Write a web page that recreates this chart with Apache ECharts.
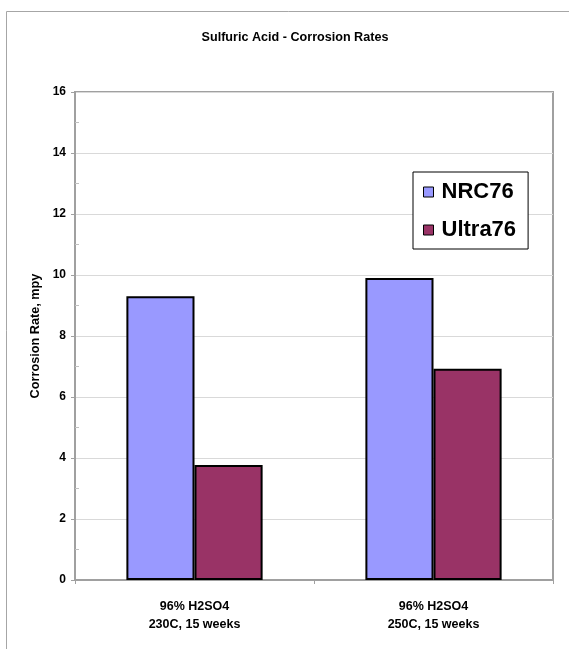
<!DOCTYPE html>
<html><head><meta charset="utf-8">
<script src="https://cdn.jsdelivr.net/npm/echarts@6/dist/echarts.min.js"></script>
<style>html,body{margin:0;padding:0;background:#fff}#c{width:569px;height:649px}</style>
</head><body><div id="c"></div>
<script>
const categories = ['96% H2SO4\n230C, 15 weeks', '96% H2SO4\n250C, 15 weeks'];
const seriesNames = ['NRC76', 'Ultra76'];
const nrc76 = [9.3, 9.9];
const ultra76 = [3.77, 6.93];
const yTicks = [0, 2, 4, 6, 8, 10, 12, 14, 16];

const FONT = '"Liberation Sans", Arial, sans-serif';
const chart = echarts.init(document.getElementById('c'));
chart.setOption({
  animation: false,
  backgroundColor: '#fff',
  graphic: [{
    type: 'rect', shape: {x: 6.5, y: 11.5, width: 700, height: 800},
    style: {fill: 'none', stroke: '#a6a6a6', lineWidth: 1}, silent: true, z: -1
  }],
  title: {
    text: 'Sulfuric Acid - Corrosion Rates', left: 290, top: 26, textAlign: 'center',
    textStyle: {fontFamily: FONT, fontSize: 12.6, fontWeight: 'bold', color: '#000'}
  },
  legend: {
    orient: 'vertical', left: 413, top: 172,
    padding: [9, 12, 8, 10], itemGap: 16, itemWidth: 10, itemHeight: 10,
    backgroundColor: '#fff', borderColor: '#000', borderWidth: 1,
    icon: 'rect',
    itemStyle: {borderColor: '#000', borderWidth: 1},
    textStyle: {fontFamily: FONT, fontSize: 22, fontWeight: 'bold', color: '#000', padding: [0, 0, 0, 3]},
    data: seriesNames
  },
  grid: {left: 75, top: 92, right: 16, bottom: 69, show: true, borderColor: '#a0a0a0', borderWidth: 2, containLabel: false},
  xAxis: {
    type: 'category', data: categories,
    axisLine: {lineStyle: {color: '#a0a0a0', width: 2}},
    axisTick: {show: true, length: 4, lineStyle: {color: '#a0a0a0'}},
    axisLabel: {fontFamily: FONT, fontSize: 12.5, fontWeight: 'bold', color: '#000', margin: 18, lineHeight: 18}
  },
  yAxis: [{
    type: 'value', min: yTicks[0], max: yTicks[yTicks.length - 1], interval: 2,
    name: 'Corrosion Rate, mpy', nameLocation: 'middle', nameGap: 29, nameRotate: 90,
    nameTextStyle: {fontFamily: FONT, fontSize: 12.7, fontWeight: 'bold', color: '#000'},
    axisLine: {show: true, lineStyle: {color: '#a0a0a0', width: 2}},
    axisTick: {show: true, length: 4, lineStyle: {color: '#a0a0a0'}},
    axisLabel: {fontFamily: FONT, fontSize: 12, fontWeight: 'bold', color: '#000', margin: 9},
    splitLine: {show: true, lineStyle: {color: '#d9d9d9', width: 1}}
  }, {
    type: 'value', min: yTicks[0], max: yTicks[yTicks.length - 1], interval: 2, position: 'left',
    axisLine: {show: false}, axisLabel: {show: false}, splitLine: {show: false},
    axisTick: {show: false, inside: true},
    minorTick: {show: true, splitNumber: 2, length: 4, lineStyle: {color: '#c0c0c0'}}
  }],
  series: [{
    name: seriesNames[0], type: 'bar', data: nrc76, barGap: '0%', barCategoryGap: '43%',
    itemStyle: {color: '#9999ff', borderColor: '#000', borderWidth: 2}
  }, {
    name: seriesNames[1], type: 'bar', data: ultra76, barGap: '0%', barCategoryGap: '43%',
    itemStyle: {color: '#993366', borderColor: '#000', borderWidth: 2}
  }]
});
</script></body></html>
